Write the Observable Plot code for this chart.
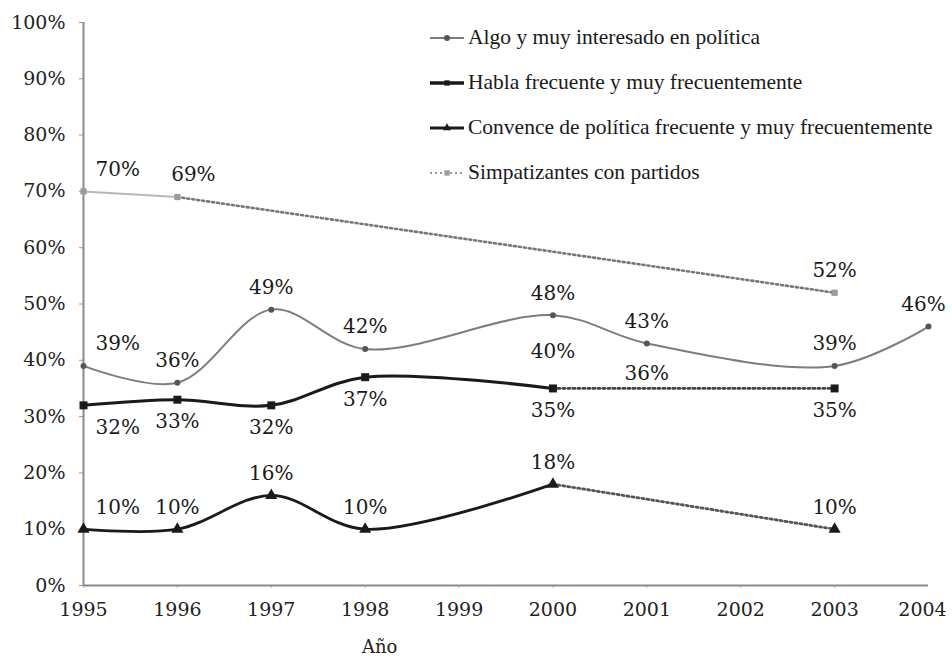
<!DOCTYPE html>
<html>
<head>
<meta charset="utf-8">
<script src="https://cdn.jsdelivr.net/npm/d3@7"></script>
<script src="https://cdn.jsdelivr.net/npm/@observablehq/plot@0.6"></script>
<style>
  html, body { margin: 0; padding: 0; background: #fff; }
  #wrap { position: relative; width: 952px; height: 658px; overflow: hidden; }
  #chart svg, #chart svg text { font-family: "DejaVu Serif", serif; }
  #legend { position: absolute; left: 428px; top: 15px; font-family: "Liberation Serif", serif; font-size: 21.5px; color: #1a1a1a; }
  .item { display: flex; align-items: center; height: 45px; }
  .item svg { margin-right: 2px; }
  #xlabel { position: absolute; left: 362px; top: 636px; font-family: "DejaVu Serif", serif; font-size: 18px; color: #222; }
</style>
</head>
<body>
<div id="wrap">
  <div id="chart"></div>
  <div id="legend"></div>
  <div id="xlabel">Año</div>
</div>
<script>
// ---- data ----
const yearTicks = [1995, 1996, 1997, 1998, 1999, 2000, 2001, 2002, 2003, 2004];
const pctTicks = [0, 10, 20, 30, 40, 50, 60, 70, 80, 90, 100];

const seriesNames = [
  "Algo y muy interesado en política",
  "Habla frecuente y muy frecuentemente",
  "Convence de política frecuente y muy frecuentemente",
  "Simpatizantes con partidos"
];

const algoYears = [1995, 1996, 1997, 1998, 2000, 2001, 2003, 2004];
const algoValues = [39, 36, 49, 42, 48, 43, 39, 46];

const hablaYears = [1995, 1996, 1997, 1998, 2000, 2003];
const hablaValues = [32, 33, 32, 37, 35, 35];

const convenceYears = [1995, 1996, 1997, 1998, 2000, 2003];
const convenceValues = [10, 10, 16, 10, 18, 10];

const simpYears = [1995, 1996, 2003];
const simpValues = [70, 69, 52];

// extra stray labels printed in the original figure
const extraYears = [2000, 2001];
const extraValues = [40, 36];

// ---- build tables ----
const toRows = (ys, vs, s) => ys.map((y, i) => ({year: y, value: vs[i], series: s}));
const algo = toRows(algoYears, algoValues, seriesNames[0]);
const habla = toRows(hablaYears, hablaValues, seriesNames[1]);
const conv = toRows(convenceYears, convenceValues, seriesNames[2]);
const simp = toRows(simpYears, simpValues, seriesNames[3]);
const extra = toRows(extraYears, extraValues, "extra");

const solid = (rows, brk) => rows.filter(d => d.year <= brk);
const dashed = (rows, brk) => rows.filter(d => d.year >= brk);

const labelFont = {fontSize: 20, fill: "#1a1a1a"};
function labels(rows, above, special = {}) {
  const dyv = above ? -22 : 22;
  const marks = [];
  const first = rows.filter(d => d.year === 1995);
  marks.push(Plot.text(first, {x: "year", y: "value", text: d => d.value + "%", dy: dyv, dx: 12, textAnchor: "start", ...labelFont}));
  const plain = rows.filter(d => d.year !== 1995 && !(d.year in special));
  marks.push(Plot.text(plain, {x: "year", y: "value", text: d => d.value + "%", dy: dyv, ...labelFont}));
  for (const k of Object.keys(special)) {
    const sub = rows.filter(d => d.year === +k);
    marks.push(Plot.text(sub, {x: "year", y: "value", text: d => d.value + "%", dy: dyv, dx: special[k], ...labelFont}));
  }
  return marks;
}

const dots = "2,3";

const chart = Plot.plot({
  width: 952,
  height: 658,
  marginLeft: 83,
  marginRight: 24,
  marginTop: 22,
  marginBottom: 73,
  style: {fontFamily: "'DejaVu Serif', serif", fontSize: "19px", color: "#222", background: "white"},
  x: {domain: [1995, 2004]},
  y: {domain: [0, 100]},
  marks: [
    Plot.axisY({ticks: pctTicks, tickFormat: d => d + "%", tickSize: 4, tickPadding: 14, label: null, stroke: "#999"}),
    Plot.axisX({ticks: yearTicks.slice(0, -1), tickFormat: d => String(d), tickSize: 3, tickPadding: 14, label: null, stroke: "#bbb"}),
    Plot.axisX({ticks: yearTicks.slice(-1), tickFormat: d => String(d), tickSize: 0, tickPadding: 17, dx: -6, label: null}),
    Plot.ruleX([1995], {stroke: "#8a8a8a", strokeWidth: 2}),
    Plot.ruleY([0], {stroke: "#8a8a8a", strokeWidth: 2}),

    // Simpatizantes
    Plot.line(solid(simp, 1996), {x: "year", y: "value", stroke: "#b8b8b8", strokeWidth: 2}),
    Plot.line(dashed(simp, 1996), {x: "year", y: "value", stroke: "#777", strokeWidth: 2.6, strokeDasharray: dots}),
    Plot.dot(simp, {x: "year", y: "value", symbol: "square", r: 3.5, fill: "#9a9a9a"}),

    // Algo
    Plot.line(algo, {x: "year", y: "value", curve: "catmull-rom", stroke: "#7d7d7d", strokeWidth: 2}),
    Plot.dot(algo, {x: "year", y: "value", r: 3, fill: "#555"}),

    // Habla
    Plot.line(solid(habla, 2000), {x: "year", y: "value", curve: "catmull-rom", stroke: "#1a1a1a", strokeWidth: 3}),
    Plot.line(dashed(habla, 2000), {x: "year", y: "value", stroke: "#444", strokeWidth: 2.8, strokeDasharray: dots}),
    Plot.dot(habla, {x: "year", y: "value", symbol: "square", r: 4.5, fill: "#1a1a1a"}),

    // Convence
    Plot.line(solid(conv, 2000), {x: "year", y: "value", curve: "catmull-rom", stroke: "#1a1a1a", strokeWidth: 2.8}),
    Plot.line(dashed(conv, 2000), {x: "year", y: "value", stroke: "#555", strokeWidth: 2.8, strokeDasharray: dots}),
    Plot.dot(conv, {x: "year", y: "value", symbol: "triangle", r: 4.5, fill: "#1a1a1a"}),

    // labels
    ...labels(simp, true, {1996: 16}),
    ...labels(algo, true, {2004: -5}),
    ...labels(habla, false),
    ...labels(conv, true),
    Plot.text(extra, {x: "year", y: "value", text: d => d.value + "%", dy: -9, ...labelFont})
  ]
});
document.getElementById("chart").appendChild(chart);

// ---- legend ----
const legendStyles = [
  {stroke: "#7d7d7d", w: 2, sym: "circle", fill: "#555"},
  {stroke: "#1a1a1a", w: 3.5, sym: "square", fill: "#1a1a1a"},
  {stroke: "#1a1a1a", w: 3, sym: "triangle", fill: "#1a1a1a"},
  {stroke: "#999", w: 2, sym: "square", fill: "#9a9a9a"}
];
const legend = d3.select("#legend");
seriesNames.forEach((name, i) => {
  const st = legendStyles[i];
  const item = legend.append("div").attr("class", "item");
  const svg = item.append("svg").attr("width", 38).attr("height", 14);
  svg.append("line").attr("x1", 2).attr("x2", 36).attr("y1", 7).attr("y2", 7)
    .attr("stroke", st.stroke).attr("stroke-width", st.w).attr("stroke-dasharray", i === 3 ? "2,3" : null);
  svg.append("path").attr("transform", "translate(19,7)")
    .attr("d", d3.symbol(st.sym === "circle" ? d3.symbolCircle : st.sym === "square" ? d3.symbolSquare : d3.symbolTriangle, 28)())
    .attr("fill", st.fill);
  item.append("span").text(name);
});
</script>
</body>
</html>
